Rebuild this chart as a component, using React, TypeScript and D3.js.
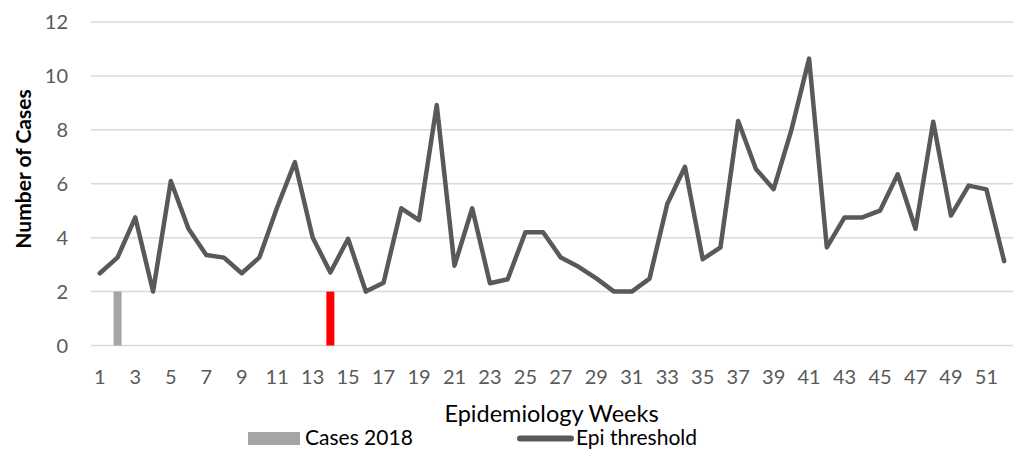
import React from 'react';
import * as d3 from 'd3';

// weeks 1..52
const weeks = d3.range(1, 53);

// reported cases for 2018 (weeks 1..14 so far)
const cases2018 = [0, 2, 0, 0, 0, 0, 0, 0, 0, 0, 0, 0, 0, 2];

// epidemic threshold per week
const epiThreshold = [
  2.68, 3.27, 4.75, 2.0, 6.1, 4.33, 3.36, 3.26, 2.68, 3.27,
  5.13, 6.8, 4.01, 2.71, 3.96, 2.0, 2.33, 5.09, 4.65, 8.92,
  2.96, 5.09, 2.31, 2.46, 4.2, 4.2, 3.26, 2.92, 2.49, 2.0,
  2.0, 2.48, 5.25, 6.63, 3.2, 3.64, 8.33, 6.55, 5.8, 7.99,
  10.64, 3.64, 4.75, 4.75, 5.0, 6.35, 4.33, 8.3, 4.82, 5.93,
  5.79, 3.13,
];

const yTicks = [0, 2, 4, 6, 8, 10, 12];
const xTickWeeks = weeks.filter(w => w % 2 === 1);

const currentWeek = 14;

const App = () => {
  const svgWidth = 1018;
  const svgHeight = 450;
  const margin = { left: 91, right: 5, top: 22, bottom: 104.5 };

  const width = svgWidth - margin.left - margin.right;
  const height = svgHeight - margin.top - margin.bottom;

  const x = d3.scaleBand<number>()
    .domain(weeks)
    .range([0, width])
    .paddingInner(0.55)
    .paddingOuter(0.275);

  const xc = d3.scaleBand<number>().domain(weeks).range([0, width]);
  const xCenter = (w: number) => (xc(w) as number) + xc.bandwidth() / 2;

  const y = d3.scaleLinear().domain([0, 12]).range([height, 0]);

  const line = d3.line<number>()
    .x((d, i) => xCenter(weeks[i]))
    .y(d => y(d));

  const tickColor = '#595959';
  const gridColor = '#d9d9d9';
  const font = 'Lato, "Open Sans", sans-serif';

  return (
    <div style={{ position: 'absolute', left: 0, top: 0 }}>
      <svg width={svgWidth} height={svgHeight} style={{ display: 'block' }} fontFamily={font}>
        <rect width={svgWidth} height={svgHeight} fill="#fff" />
        <g transform={`translate(${margin.left},${margin.top})`}>
          {/* grid */}
          {yTicks.map(t => (
            <line key={'g' + t} x1={0} x2={width} y1={y(t)} y2={y(t)} stroke={gridColor} strokeWidth={1.5} />
          ))}

          {/* bars */}
          {cases2018.map((d, i) => (
            <rect
              key={'b' + i}
              x={x(weeks[i])}
              width={x.bandwidth()}
              y={y(d)}
              height={height - y(d)}
              fill={weeks[i] === currentWeek ? '#ff0000' : '#a5a5a5'}
            />
          ))}

          {/* threshold line */}
          <path d={line(epiThreshold) || ''} fill="none" stroke="#595959" strokeWidth={4.5}
            strokeLinejoin="round" strokeLinecap="round" />

          {/* y axis labels */}
          <g fontSize={20} fill={tickColor} textAnchor="end">
            {yTicks.map(t => (
              <text key={'y' + t} x={-23} y={y(t)} dy="0.35em">{t}</text>
            ))}
          </g>

          {/* x axis labels */}
          <g fontSize={20} fill={tickColor} textAnchor="middle">
            {xTickWeeks.map(w => (
              <text key={'x' + w} x={xCenter(w)} y={height + 38.5}>{w}</text>
            ))}
          </g>
        </g>

        {/* axis titles */}
        <text x={551.5} y={422} textAnchor="middle" fontSize={23.5} fill="#000">Epidemiology Weeks</text>
        <text transform="translate(31,169) rotate(-90)" textAnchor="middle" fontSize={21} fontWeight="bold" fill="#000">Number of Cases</text>

        {/* legend */}
        <g fontSize={21} fill="#000">
          <rect x={248} y={432} width={52} height={13} fill="#a5a5a5" />
          <text x={305} y={445}>Cases 2018</text>
          <line x1={520} x2={571} y1={438.5} y2={438.5} stroke="#595959" strokeWidth={6} strokeLinecap="round" />
          <text x={576} y={445}>Epi threshold</text>
        </g>
      </svg>
    </div>
  );
};

export default App;
